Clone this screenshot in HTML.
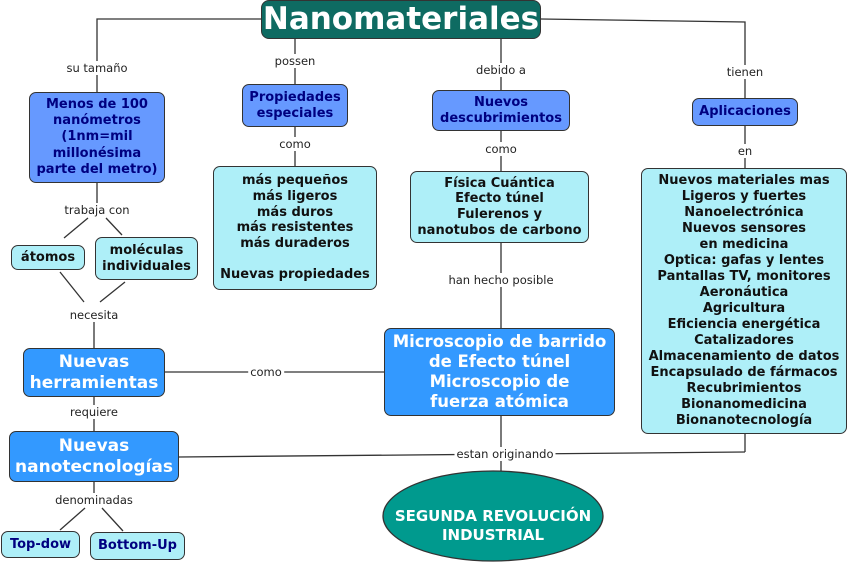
<!DOCTYPE html>
<html><head><meta charset="utf-8"><style>
body{margin:0;width:850px;height:576px;background:#fff;position:relative;overflow:hidden;font-family:"DejaVu Sans","Liberation Sans",sans-serif}
.b{position:absolute;box-sizing:border-box;border:1px solid #333;border-radius:7px;display:flex;align-items:center;justify-content:center;text-align:center;font-weight:bold;line-height:1.2}
.m{background:#6699ff;color:#000080;font-size:13px}
.c{background:#aeeff8;color:#111;font-size:13px}
.t{background:#3399ff;color:#fff;font-size:17px}
.l{position:absolute;font-size:11.5px;color:#222;background:#fff;transform:translate(-50%,-50%);white-space:nowrap;padding:0 2px}
</style></head><body>
<svg width="850" height="576" style="position:absolute;left:0;top:0">
<g stroke="#333" stroke-width="1.3" fill="none">
<polyline points="261,19 97,19 97,92"/>
<line x1="295" y1="38" x2="295" y2="84"/>
<line x1="501" y1="38" x2="501" y2="90"/>
<polyline points="541,19 745,22 745,98"/>
<line x1="295" y1="127" x2="295" y2="166"/>
<line x1="501" y1="131" x2="501" y2="171"/>
<line x1="745" y1="126" x2="745" y2="168"/>
<line x1="97" y1="183" x2="97" y2="205"/>
<line x1="88" y1="218" x2="64" y2="238"/>
<line x1="106" y1="218" x2="122" y2="235"/>
<line x1="60" y1="272" x2="84" y2="302"/>
<line x1="125" y1="282" x2="100" y2="302"/>
<line x1="94" y1="322" x2="94" y2="348"/>
<line x1="165" y1="372" x2="384" y2="372"/>
<line x1="94" y1="397" x2="94" y2="431"/>
<line x1="501" y1="243" x2="501" y2="328"/>
<line x1="179" y1="457" x2="745" y2="452"/>
<line x1="745" y1="434" x2="745" y2="452"/>
<line x1="501" y1="416" x2="501" y2="471"/>
<line x1="94" y1="482" x2="94" y2="495"/>
<line x1="85" y1="508" x2="60" y2="530"/>
<line x1="102" y1="508" x2="123" y2="531"/>
</g>
<ellipse cx="493" cy="516" rx="110" ry="45" fill="#009a8e" stroke="#333" stroke-width="1.3"/>
</svg>
<div class="b" style="left:261px;top:0;width:280px;height:39px;background:#0e6b62;color:#fff;font-size:31px;border-radius:8px">Nanomateriales</div>
<div class="l" style="left:97px;top:68px">su tamaño</div>
<div class="l" style="left:295px;top:61px">possen</div>
<div class="l" style="left:501px;top:70px">debido a</div>
<div class="l" style="left:745px;top:72px">tienen</div>
<div class="b m" style="left:29px;top:92px;width:136px;height:91px;line-height:1.24">Menos de 100<br>nanómetros<br>(1nm=mil<br>millonésima<br>parte del metro)</div>
<div class="b m" style="left:242px;top:84px;width:106px;height:43px">Propiedades<br>especiales</div>
<div class="b m" style="left:432px;top:90px;width:138px;height:41px">Nuevos<br>descubrimientos</div>
<div class="b m" style="left:692px;top:98px;width:106px;height:28px">Aplicaciones</div>
<div class="l" style="left:295px;top:144px">como</div>
<div class="l" style="left:501px;top:149px">como</div>
<div class="l" style="left:745px;top:151px">en</div>
<div class="b c" style="left:213px;top:166px;width:164px;height:124px">más pequeños<br>más ligeros<br>más duros<br>más resistentes<br>más duraderos<br><br>Nuevas propiedades</div>
<div class="b c" style="left:410px;top:171px;width:179px;height:72px">Física Cuántica<br>Efecto túnel<br>Fulerenos y<br>nanotubos de carbono</div>
<div class="b c" style="left:641px;top:168px;width:206px;height:266px;line-height:1.23">Nuevos materiales mas<br>Ligeros y fuertes<br>Nanoelectrónica<br>Nuevos sensores<br>en medicina<br>Optica: gafas y lentes<br>Pantallas TV, monitores<br>Aeronáutica<br>Agricultura<br>Eficiencia energética<br>Catalizadores<br>Almacenamiento de datos<br>Encapsulado de fármacos<br>Recubrimientos<br>Bionanomedicina<br>Bionanotecnología</div>
<div class="l" style="left:97px;top:210px">trabaja con</div>
<div class="b c" style="left:11px;top:245px;width:74px;height:25px">átomos</div>
<div class="b c" style="left:95px;top:237px;width:103px;height:43px">moléculas<br>individuales</div>
<div class="l" style="left:94px;top:315px">necesita</div>
<div class="l" style="left:501px;top:280px">han hecho posible</div>
<div class="b t" style="left:23px;top:348px;width:142px;height:49px">Nuevas<br>herramientas</div>
<div class="l" style="left:266px;top:372px">como</div>
<div class="b t" style="left:384px;top:328px;width:231px;height:88px;font-size:16.5px">Microscopio de barrido<br>de Efecto túnel<br>Microscopio de<br>fuerza atómica</div>
<div class="l" style="left:94px;top:412px">requiere</div>
<div class="b t" style="left:9px;top:431px;width:170px;height:51px">Nuevas<br>nanotecnologías</div>
<div class="l" style="left:505px;top:454px">estan originando</div>
<div class="l" style="left:94px;top:500px">denominadas</div>
<div class="b c" style="left:1px;top:531px;width:79px;height:27px;color:#000080">Top-dow</div>
<div class="b c" style="left:90px;top:532px;width:95px;height:28px;color:#000080">Bottom-Up</div>
<div style="position:absolute;left:373px;top:507px;width:240px;text-align:center;color:#fff;font-weight:bold;font-size:15px;line-height:1.25">SEGUNDA REVOLUCIÓN<br>INDUSTRIAL</div>
</body></html>
